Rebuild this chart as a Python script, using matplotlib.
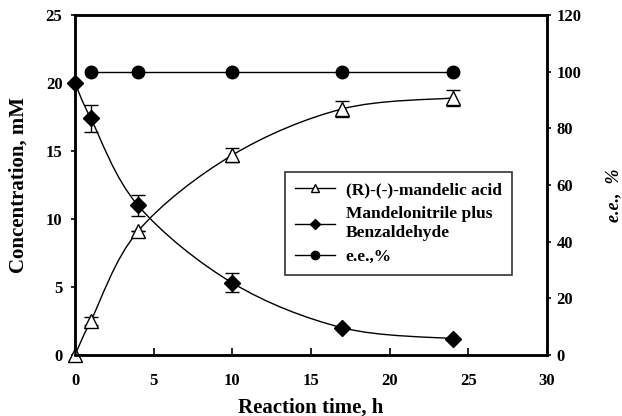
import numpy as np
import matplotlib.pyplot as plt
from matplotlib.path import Path
from matplotlib.patches import PathPatch
from matplotlib.lines import Line2D

plt.rcParams['font.family'] = 'Liberation Serif'
plt.rcParams['font.weight'] = 'bold'

time_acid = [0, 1, 4, 10, 17, 24]
acid = [0, 2.5, 9.1, 14.7, 18.1, 18.9]
acid_err = [0, 0.3, 0, 0.5, 0.6, 0.6]

time_nitrile = [0, 1, 4, 10, 17, 24]
nitrile = [20.0, 17.4, 11.0, 5.3, 2.0, 1.2]
nitrile_err = [0, 1.0, 0.8, 0.7, 0, 0]

time_ee = [1, 4, 10, 17, 24]
ee = [100, 100, 100, 100, 100]


def smooth_path(x, y, t=0.5):
    # catmull-rom style bezier through the points, like excel smoothed lines
    x = np.asarray(x, float)
    y = np.asarray(y, float)
    verts = [(x[0], y[0])]
    codes = [Path.MOVETO]
    n = len(x)
    for i in range(n - 1):
        p0 = (x[max(i - 1, 0)], y[max(i - 1, 0)])
        p1 = (x[i], y[i])
        p2 = (x[i + 1], y[i + 1])
        p3 = (x[min(i + 2, n - 1)], y[min(i + 2, n - 1)])
        c1 = (p1[0] + (p2[0] - p0[0]) * t / 3, p1[1] + (p2[1] - p0[1]) * t / 3)
        c2 = (p2[0] - (p3[0] - p1[0]) * t / 3, p2[1] - (p3[1] - p1[1]) * t / 3)
        verts += [c1, c2, p2]
        codes += [Path.CURVE4] * 3
    return Path(verts, codes)


fig = plt.figure(figsize=(6.22, 4.16), dpi=100)
ax = fig.add_axes([75 / 622, 1 - 355 / 416, 472 / 622, 340 / 416])
ax2 = ax.twinx()

ax.add_patch(PathPatch(smooth_path(time_acid, acid), fc='none', ec='black', lw=1, zorder=2))
ax.add_patch(PathPatch(smooth_path(time_nitrile, nitrile), fc='none', ec='black', lw=1, zorder=2))

ax.errorbar(time_acid, acid, yerr=acid_err, fmt='none', ecolor='black', elinewidth=1, capsize=5, zorder=3)
ax.errorbar(time_nitrile, nitrile, yerr=nitrile_err, fmt='none', ecolor='black', elinewidth=1, capsize=5, zorder=3)
ax.plot(time_acid, acid, ls='none', marker='^', ms=9.5, mfc='white', mec='black', mew=1, zorder=4, clip_on=False)
ax.plot(time_nitrile, nitrile, ls='none', marker='D', ms=8, mfc='black', mec='black', zorder=4, clip_on=False)

ax2.plot(time_ee, ee, color='black', lw=1, marker='o', ms=9, mfc='black', mec='black', clip_on=False)

ax.set_xlim(0, 30)
ax.set_ylim(0, 25)
ax2.set_ylim(0, 120)
ax.set_xticks([0, 5, 10, 15, 20, 25, 30])
ax.set_yticks([0, 5, 10, 15, 20, 25])
ax2.set_yticks([0, 20, 40, 60, 80, 100, 120])

for a in (ax, ax2):
    for s in a.spines.values():
        s.set_linewidth(1.8)
ax.tick_params(axis='x', direction='in', length=5, width=1.2, labelsize=12, pad=13)
ax.tick_params(axis='y', direction='out', length=3, width=1.2, labelsize=12, pad=6)
ax2.tick_params(axis='y', direction='out', length=3, width=1.2, labelsize=12, pad=4)

ax.set_xlabel('Reaction time, h', fontsize=15, fontweight='bold', labelpad=6)
ax.set_ylabel('Concentration, mM', fontsize=15, fontweight='bold', labelpad=12)
fig.text(614 / 622, 1 - 195 / 416, 'e.e.,  %', rotation=90, fontsize=13, fontweight='bold',
         fontstyle='italic', ha='center', va='center')

handles = [
    Line2D([], [], color='black', lw=1, marker='^', ms=6, mfc='white', mec='black'),
    Line2D([], [], color='black', lw=1, marker='D', ms=5, mfc='black'),
    Line2D([], [], color='black', lw=1, marker='o', ms=6, mfc='black'),
]
labels = ['(R)-(-)-mandelic acid', 'Mandelonitrile plus\nBenzaldehyde', 'e.e.,%']
leg = ax.legend(handles, labels, loc='upper left', bbox_to_anchor=(210 / 472, (355 - 172) / 340),
                frameon=True, fancybox=False, edgecolor='black', fontsize=12.5,
                handlelength=2.3, handletextpad=0.6, borderpad=0.6, labelspacing=0.45,
                borderaxespad=0)
leg.get_frame().set_linewidth(1.2)

fig.savefig('out.png', dpi=100)
